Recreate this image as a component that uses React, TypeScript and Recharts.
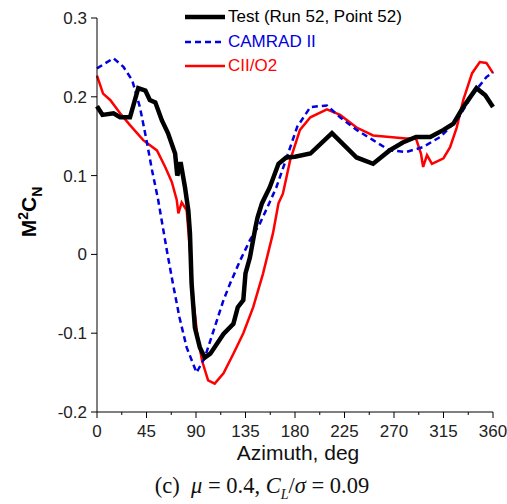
import React from 'react';
import { LineChart, Line, XAxis, YAxis } from 'recharts';

// Test (Run 52, Point 52)
const testAz = [0, 5, 15, 21, 30, 34.5, 37.5, 44, 48, 53, 59, 64.5, 71, 73, 76, 80, 83, 84.5, 86, 89, 93.5, 98, 103, 115, 124, 128, 133, 135, 139, 144, 146, 150, 157, 165, 172, 180, 194, 213.6, 236, 251, 266, 278, 290, 303, 315, 324, 333, 345, 353, 360];
const testVal = [0.188, 0.177, 0.179, 0.174, 0.174, 0.196, 0.211, 0.208, 0.196, 0.193, 0.17, 0.154, 0.128, 0.1, 0.117, 0.085, 0.056, 0.027, -0.037, -0.093, -0.118, -0.131, -0.126, -0.101, -0.088, -0.067, -0.058, -0.024, -0.004, 0.034, 0.047, 0.065, 0.085, 0.115, 0.123, 0.124, 0.128, 0.154, 0.123, 0.115, 0.132, 0.142, 0.149, 0.149, 0.158, 0.166, 0.187, 0.211, 0.202, 0.187];

// CAMRAD II
const camAz = [0, 15, 24, 32, 39, 45, 50, 55.5, 63.5, 69, 75, 81.5, 90.5, 98, 105, 115, 121, 130, 139, 148, 155, 163, 172.5, 182, 194, 209, 221, 236, 251, 266, 281, 296, 312, 327, 342, 354, 360];
const camVal = [0.236, 0.249, 0.238, 0.221, 0.187, 0.145, 0.107, 0.07, 0.005, -0.037, -0.08, -0.118, -0.15, -0.131, -0.101, -0.058, -0.037, -0.008, 0.018, 0.039, 0.06, 0.085, 0.123, 0.162, 0.187, 0.189, 0.174, 0.158, 0.145, 0.132, 0.13, 0.136, 0.149, 0.17, 0.204, 0.225, 0.231];

// CII/O2
const ciiAz = [0, 5.5, 12, 21, 30, 42, 54.5, 62, 68, 72.5, 74, 77, 81.5, 84.5, 87.5, 91, 95.5, 101, 107, 115, 124, 133, 142, 151, 160, 165, 169, 175.5, 184.5, 194, 209, 221, 236, 251, 266, 281, 290, 294.5, 296.5, 300, 304.5, 315, 321, 327, 333, 341, 348, 354, 360];
const ciiVal = [0.227, 0.204, 0.196, 0.179, 0.164, 0.145, 0.132, 0.111, 0.092, 0.069, 0.052, 0.066, 0.056, 0.005, -0.058, -0.1, -0.135, -0.16, -0.164, -0.151, -0.126, -0.1, -0.067, -0.024, 0.027, 0.065, 0.077, 0.119, 0.158, 0.174, 0.184, 0.177, 0.161, 0.151, 0.149, 0.147, 0.147, 0.128, 0.111, 0.126, 0.115, 0.122, 0.136, 0.161, 0.196, 0.23, 0.244, 0.243, 0.23];

const xTicks = [0, 22.5, 45, 67.5, 90, 112.5, 135, 157.5, 180, 202.5, 225, 247.5, 270, 292.5, 315, 337.5, 360];
const yTicks = [-0.2, -0.1, 0, 0.1, 0.2, 0.3];
const yTickLabels = ['-0.2', '-0.1', '0', '0.1', '0.2', '0.3'];

const zip = (az: number[], v: number[]) => az.map((a, i) => ({ az: a, v: v[i] }));
const testData = zip(testAz, testVal);
const camData = zip(camAz, camVal);
const ciiData = zip(ciiAz, ciiVal);

const FONT = '"Liberation Sans", Arial, sans-serif';
const AXIS_Y = 412;

const XTick = ({ x, payload }: any) => {
  const major = payload.value % 45 === 0;
  return (
    <g>
      <line x1={x} x2={x} y1={AXIS_Y} y2={AXIS_Y + (major ? 6 : 3)} stroke="#000" strokeWidth={1} />
      {major && (
        <text x={x} y={AXIS_Y + 25} textAnchor="middle" fontSize={17} fontFamily={FONT} fill="#222">
          {payload.value}
        </text>
      )}
    </g>
  );
};

const YTick = ({ x, y, payload }: any) => {
  const idx = yTicks.findIndex((t) => Math.abs(t - payload.value) < 1e-9);
  return (
    <text x={x - 2} y={y + 6} textAnchor="end" fontSize={17} fontFamily={FONT} fill="#222">
      {yTickLabels[idx]}
    </text>
  );
};

const legendItems = [
  { name: 'Test (Run 52, Point 52)', color: '#000', width: 4.5, dash: undefined },
  { name: 'CAMRAD II', color: '#0000e0', width: 2.5, dash: '6 4' },
  { name: 'CII/O2', color: '#ff0000', width: 2.5, dash: undefined },
];

export default function App() {
  return (
    <div style={{ position: 'absolute', left: 0, top: 0, width: 507, height: 504, background: '#fff' }}>
      <LineChart width={507} height={504} margin={{ top: 18, right: 14, left: 0, bottom: 64 }}>
        <XAxis
          dataKey="az"
          type="number"
          domain={[0, 360]}
          ticks={xTicks}
          interval={0}
          height={28}
          tickLine={false}
          tick={<XTick />}
          axisLine={{ stroke: '#000', strokeWidth: 1 }}
          allowDuplicatedCategory={false}
        />
        <YAxis
          type="number"
          domain={[-0.2, 0.3]}
          ticks={yTicks}
          interval={0}
          width={97}
          tickSize={6}
          tickLine={{ stroke: '#000' }}
          tick={<YTick />}
          axisLine={{ stroke: '#000', strokeWidth: 1 }}
        />
        <Line data={ciiData} dataKey="v" stroke="#ff0000" strokeWidth={2.5} dot={false} isAnimationActive={false} />
        <Line data={camData} dataKey="v" stroke="#0000e0" strokeWidth={2.5} strokeDasharray="6 4" dot={false} isAnimationActive={false} />
        <Line data={testData} dataKey="v" stroke="#000" strokeWidth={4.5} dot={false} isAnimationActive={false} />
      </LineChart>
      <div style={{ position: 'absolute', left: 185, top: 5, fontFamily: FONT, fontSize: 17 }}>
        {legendItems.map((it) => (
          <div key={it.name} style={{ display: 'flex', alignItems: 'center', height: 24.5, color: it.color }}>
            <svg width={40} height={10} style={{ marginRight: 3 }}>
              <line x1={0} x2={40} y1={5} y2={5} stroke={it.color} strokeWidth={it.width} strokeDasharray={it.dash} />
            </svg>
            <span>{it.name}</span>
          </div>
        ))}
      </div>
      <div
        style={{
          position: 'absolute', left: 30, top: 212, transform: 'translate(-50%, -50%) rotate(-90deg)',
          fontFamily: FONT, fontSize: 21, fontWeight: 'bold', whiteSpace: 'nowrap',
        }}
      >
        M<sup style={{ fontSize: 14 }}>2</sup>C<sub style={{ fontSize: 14 }}>N</sub>
      </div>
      <div style={{ position: 'absolute', left: 298, top: 453, transform: 'translate(-50%, -50%)', fontFamily: FONT, fontSize: 21, whiteSpace: 'nowrap', color: '#111' }}>
        Azimuth, deg
      </div>
      <div style={{ position: 'absolute', left: 262, top: 488, transform: 'translate(-50%, -50%)', fontFamily: '"Liberation Serif", "Times New Roman", serif', fontSize: 22.5, whiteSpace: 'nowrap', color: '#111' }}>
        (c)&nbsp; <i>μ</i> = 0.4, <i>C<sub style={{ fontSize: 14 }}>L</sub></i>/<i>σ</i> = 0.09
      </div>
    </div>
  );
}
